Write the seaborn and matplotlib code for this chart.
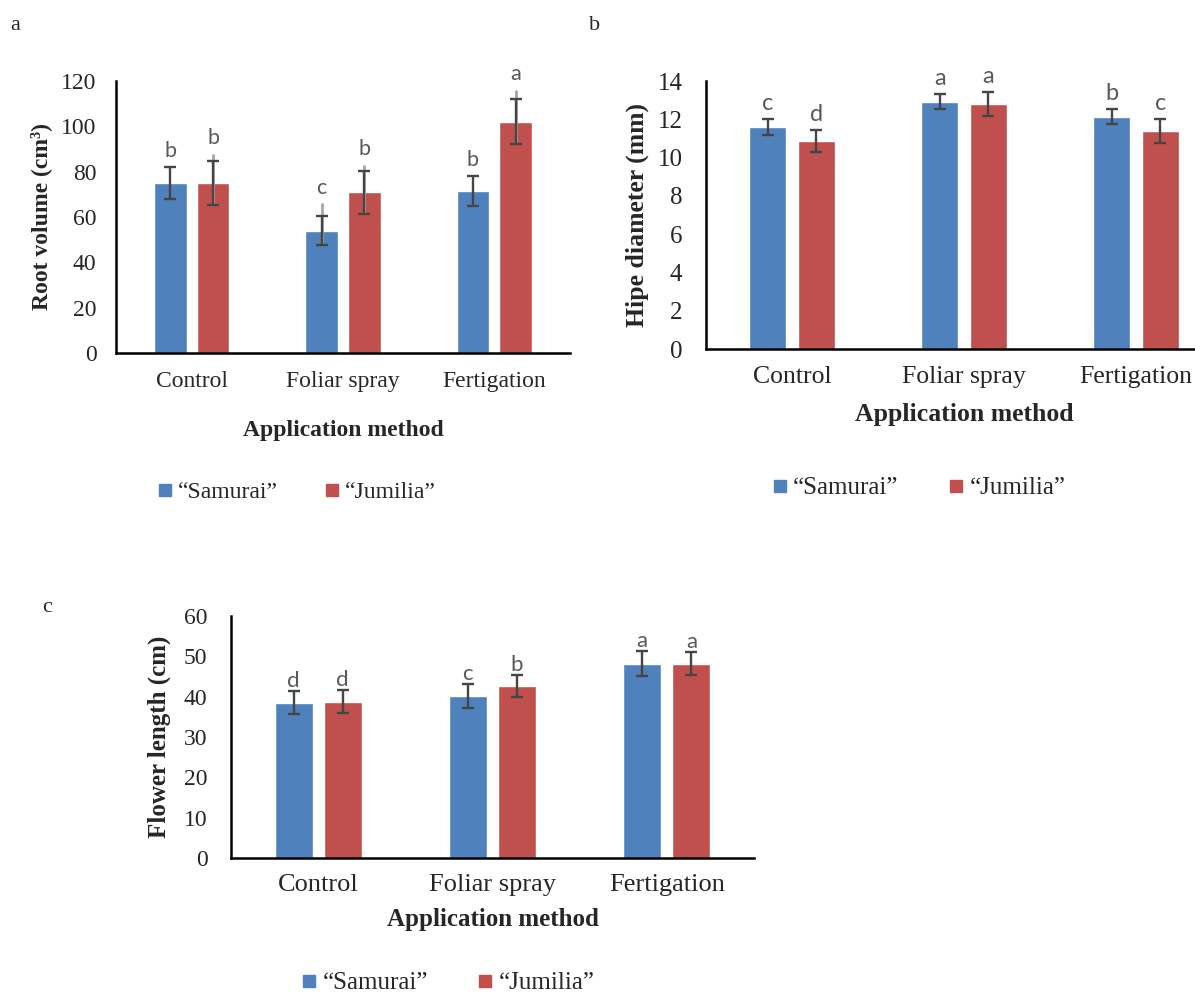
import numpy as np
import pandas as pd
import matplotlib
matplotlib.use("Agg")
import matplotlib.pyplot as plt
import seaborn as sns
from matplotlib.lines import Line2D

# ---------------- data ----------------
methods = ["Control", "Foliar spray", "Fertigation"]
cultivars = ["\u201cSamurai\u201d", "\u201cJumilia\u201d"]

root_samurai = [75.0, 54.0, 71.5]
root_jumilia = [75.0, 71.0, 102.0]
root_err_samurai = [7.0, 6.5, 6.5]
root_err_jumilia = [9.7, 9.5, 10.0]
root_gray_samurai = [0.0, 12.0, 0.0]
root_gray_jumilia = [13.0, 12.0, 14.0]
root_letters_samurai = ["b", "c", "b"]
root_letters_jumilia = ["b", "b", "a"]

hipe_samurai = [11.6, 12.92, 12.14]
hipe_jumilia = [10.87, 12.79, 11.39]
hipe_err_samurai = [0.41, 0.39, 0.40]
hipe_err_jumilia = [0.57, 0.61, 0.61]
hipe_letters_samurai = ["c", "a", "b"]
hipe_letters_jumilia = ["d", "a", "c"]

flower_samurai = [38.5, 40.2, 48.2]
flower_jumilia = [38.8, 42.7, 48.2]
flower_err_samurai = [2.85, 2.95, 3.0]
flower_err_jumilia = [2.75, 2.7, 2.8]
flower_letters_samurai = ["d", "c", "a"]
flower_letters_jumilia = ["d", "b", "a"]

colors = ["#4F81BD", "#C0504D"]

# ---------------- style ----------------
sns.set_style("white")
plt.rcParams["font.family"] = ["Liberation Serif", "DejaVu Serif"]

W, H = 1195, 993
fig = plt.figure(figsize=(W / 100, H / 100), dpi=100)


def px_axes(left, top, right, bottom):
    return fig.add_axes([left / W, 1 - bottom / H, (right - left) / W, (bottom - top) / H])


def panel(ax, s_vals, j_vals, s_err, j_err, s_let, j_let, ylim, step, ylabel,
          fs_tick_x, fs_tick_y, fs_lab, fs_let, let_off, ypad, xpad,
          xlab_y, ylab_x, s_gray=None, j_gray=None):
    df = pd.DataFrame({
        "method": methods * 2,
        "cultivar": [cultivars[0]] * 3 + [cultivars[1]] * 3,
        "value": list(s_vals) + list(j_vals),
    })
    sns.barplot(data=df, x="method", y="value", hue="cultivar", order=methods,
                hue_order=cultivars, palette=colors, saturation=1, width=0.564,
                gap=0.227, errorbar=None, legend=False, ax=ax, zorder=2)
    bar_conts = list(ax.containers)
    vals = [s_vals, j_vals]
    errs = [s_err, j_err]
    lets = [s_let, j_let]
    grays = [s_gray, j_gray]
    for k, cont in enumerate(bar_conts):
        xs = [p.get_x() + p.get_width() / 2 for p in cont.patches]
        v = np.array(vals[k])
        e = np.array(errs[k])
        top = v + e
        if grays[k] is not None:
            g = np.array(grays[k])
            for xi, vi, ei, gi in zip(xs, v, e, g):
                if gi > 0:
                    ax.vlines(xi, vi - ei, vi + gi, color="#A6A6A6", lw=2.0, zorder=3)
            top = np.maximum(top, v + g)
        ax.errorbar(xs, v, yerr=e, fmt="none", ecolor="#454545", elinewidth=1.7,
                    capsize=4.2, capthick=1.7, zorder=4)
        for xi, ti, lt in zip(xs, top, lets[k]):
            ax.annotate(lt, (xi, ti), xytext=(0, let_off), textcoords="offset points",
                        ha="center", va="baseline", fontsize=fs_let, color="#595959",
                        family=["Lato", "DejaVu Sans"])
    ax.set_xlim(-0.5, 2.5)
    ax.set_ylim(*ylim)
    ticks = np.arange(ylim[0], ylim[1] + step / 2, step)
    ax.set_yticks(ticks)
    ax.set_yticklabels([f"{t:g}" for t in ticks], fontsize=fs_tick_y)
    ax.set_xticks(range(3))
    ax.set_xticklabels(methods, fontsize=fs_tick_x)
    ax.tick_params(axis="y", length=0, pad=ypad)
    ax.tick_params(axis="x", length=0, pad=xpad)
    for s in ["top", "right"]:
        ax.spines[s].set_visible(False)
    for s in ["left", "bottom"]:
        ax.spines[s].set_color("black")
        ax.spines[s].set_linewidth(1.8)
    ax.set_xlabel("Application method", fontsize=fs_lab, fontweight="bold")
    ax.set_ylabel(ylabel, fontsize=fs_lab, fontweight="bold")
    ax.xaxis.set_label_coords(0.5, xlab_y)
    ax.yaxis.set_label_coords(ylab_x, 0.5)
    ax.set_facecolor("white")
    ax.grid(False)


def legend(cx, cy, fs):
    handles = [Line2D([], [], marker="s", ls="none", markersize=8.5,
                      markerfacecolor=c, markeredgecolor=c) for c in colors]
    fig.legend(handles, cultivars, loc="center", bbox_to_anchor=(cx / W, 1 - cy / H),
               ncol=2, frameon=False, fontsize=fs, handlelength=0.6,
               handletextpad=0.25, columnspacing=2.0, borderpad=0)


# panel a
axa = px_axes(116, 81, 570, 353)
panel(axa, root_samurai, root_jumilia, root_err_samurai, root_err_jumilia,
      root_letters_samurai, root_letters_jumilia, (0, 120), 20,
      "Root volume (cm\u00b3)", 17, 17, 17, 15.5, 7, 14, 13,
      -0.246, -0.141, root_gray_samurai, root_gray_jumilia)
legend(297, 492, 17)

# panel b
axb = px_axes(706, 81, 1222, 349)
panel(axb, hipe_samurai, hipe_jumilia, hipe_err_samurai, hipe_err_jumilia,
      hipe_letters_samurai, hipe_letters_jumilia, (0, 14), 2,
      "Hipe diameter (mm)", 18.5, 18, 18.5, 17, 6.5, 17, 12,
      -0.20, -0.111)
legend(919, 488, 18)

# panel c
axc = px_axes(231, 616, 754, 858)
panel(axc, flower_samurai, flower_jumilia, flower_err_samurai, flower_err_jumilia,
      flower_letters_samurai, flower_letters_jumilia, (0, 60), 10,
      "Flower length (cm)", 19, 17, 18, 16, 3, 17, 11.5,
      -0.206, -0.114)
legend(448, 983, 18)

# panel letters
fig.text(10 / W, 1 - 30 / H, "a", fontsize=16, va="baseline", ha="left")
fig.text(589 / W, 1 - 30 / H, "b", fontsize=16, va="baseline", ha="left")
fig.text(42 / W, 1 - 612 / H, "c", fontsize=16, va="baseline", ha="left")

fig.savefig("out.png", dpi=100, facecolor="white")
